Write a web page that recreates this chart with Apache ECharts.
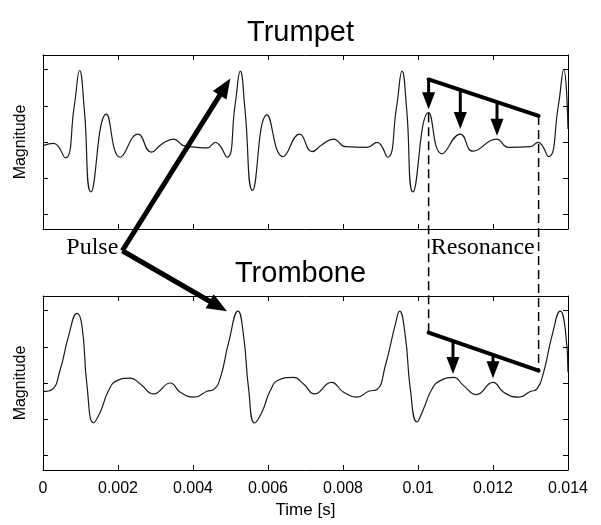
<!DOCTYPE html>
<html><head><meta charset="utf-8">
<script src="https://cdn.jsdelivr.net/npm/echarts@6/dist/echarts.min.js"></script>
<style>html,body{margin:0;padding:0;background:#fff}#c{width:601px;height:525px}</style>
</head><body><div id="c"></div>
<script>
// ---- data ----
const xTickValues = [0, 0.002, 0.004, 0.006, 0.008, 0.010, 0.012, 0.014];
const xTickLabels = ['0', '0.002', '0.004', '0.006', '0.008', '0.01', '0.012', '0.014'];
const yTickValues = [-1, -0.5, 0, 0.5, 1];

const trumpetTime = [0, 0.000283, 0.000595, 0.000835, 0.000976, 0.001101, 0.00128, 0.001688, 0.002061, 0.002533, 0.002888, 0.003173, 0.003483, 0.003749, 0.004107, 0.004373, 0.004595, 0.004907, 0.00512, 0.005261, 0.005386, 0.005589, 0.005973, 0.0064, 0.006843, 0.007173, 0.00744, 0.007749, 0.008061, 0.00864, 0.008907, 0.009189, 0.009432, 0.009573, 0.009698, 0.009867, 0.010283, 0.01064, 0.011128, 0.011467, 0.012088, 0.012416, 0.012995, 0.0132, 0.013483, 0.013742, 0.013883, 0.014];
const trumpetMag = [-0.05, -0.018, -0.219, 0.5, 0.986, 0.45, -0.689, 0.384, -0.21, 0.11, -0.141, -0.027, 0.041, -0.05, -0.073, -0.082, -0.004, -0.21, 0.5, 0.977, 0.45, -0.667, 0.374, -0.201, 0.11, -0.133, -0.037, 0.041, -0.064, -0.073, -0.004, -0.21, 0.5, 0.977, 0.45, -0.689, 0.407, -0.164, 0.11, -0.127, 0.041, -0.073, -0.064, -0.004, -0.201, 0.5, 1.0, 0.18];

const tromboneTime = [0, 0.00024, 0.000461, 0.000683, 0.000907, 0.00104, 0.001173, 0.001349, 0.001528, 0.001749, 0.001973, 0.002328, 0.002595, 0.002949, 0.003395, 0.003661, 0.004035, 0.004373, 0.004549, 0.004728, 0.004949, 0.0052, 0.005349, 0.005483, 0.005643, 0.00584, 0.006061, 0.006283, 0.006683, 0.006949, 0.007243, 0.007688, 0.008016, 0.008373, 0.008683, 0.008907, 0.009128, 0.009395, 0.009509, 0.009661, 0.009795, 0.009973, 0.010149, 0.010373, 0.010595, 0.010949, 0.011216, 0.011555, 0.012, 0.012283, 0.012683, 0.012995, 0.013173, 0.013349, 0.013573, 0.013795, 0.013928, 0.014];
const tromboneMag = [-0.118, -0.09, 0.19, 0.65, 0.959, 0.786, -0.036, -0.548, -0.40, -0.104, 0.033, 0.068, -0.014, -0.151, 0.0, -0.127, -0.196, -0.114, -0.09, 0.07, 0.557, 0.992, 0.65, -0.082, -0.552, -0.40, -0.104, 0.041, 0.078, -0.014, -0.151, 0.01, -0.127, -0.196, -0.114, -0.09, 0.238, 0.808, 0.992, 0.65, -0.082, -0.538, -0.356, -0.082, 0.033, 0.078, -0.036, -0.159, 0.01, -0.127, -0.196, -0.118, -0.082, 0.147, 0.65, 0.992, 0.74, 0.147];

// annotations (data coordinates)
const pulseOrigin = [0.002115, -1.5];           // grid 0 coords (between panels)
const pulseTipTop = [0.004995, 0.877];          // grid 0
const pulseTipBottom = [0.004907, 0.99];        // grid 1
const resTopLine = [[0.010283, 0.863], [0.013216, 0.36]];
const resTopArrowT = [0.010283, 0.011128, 0.012107];
const resTopArrowTip = [0.452, 0.178, 0.086];
const resBotLine = [[0.010283, 0.695], [0.013216, 0.17]];
const resBotArrowT = [0.010933, 0.012];
const resBotArrowTip = [0.123, 0.064];

// ---- chart ----
const chart = echarts.init(document.getElementById('c'), null, {renderer: 'canvas'});
const FONT = 'Liberation Sans, Arial, Helvetica, sans-serif';
const SERIF = 'Liberation Serif, Times New Roman, serif';

function xAx(gridIndex, position, labels) {
  return {
    type: 'value', gridIndex, position, min: 0, max: 0.014, interval: 0.002,
    axisLine: {show: true, onZero: false, lineStyle: {color: '#000', width: 1}},
    axisTick: {show: true, inside: true, length: 5, lineStyle: {color: '#000'}},
    splitLine: {show: false},
    axisLabel: {show: labels, color: '#000', fontFamily: FONT, fontSize: 16, margin: 11,
      showMinLabel: true, showMaxLabel: true,
      formatter: v => xTickLabels[Math.round(v / 0.002)]},
    name: labels ? 'Time [s]' : '', nameLocation: 'middle', nameGap: 32,
    nameTextStyle: {color: '#000', fontFamily: FONT, fontSize: 17}
  };
}
function yAx(gridIndex, position, named) {
  return {
    type: 'value', gridIndex, position, min: -1.2, max: 1.2,
    axisLine: {show: true, onZero: false, lineStyle: {color: '#000', width: 1}},
    axisTick: {show: true, inside: true, length: 5, customValues: yTickValues, lineStyle: {color: '#000'}},
    splitLine: {show: false},
    axisLabel: {show: false},
    name: named ? 'Magnitude' : '', nameLocation: 'middle', nameGap: 14,
    nameTextStyle: {color: '#000', fontFamily: FONT, fontSize: 16}
  };
}

const option = {
  backgroundColor: '#fff',
  animation: false,
  title: [
    {text: 'Trumpet', left: 'center', top: 13, textStyle: {fontFamily: FONT, fontSize: 29, fontWeight: 'normal', color: '#000'}},
    {text: 'Trombone', left: 'center', top: 254, textStyle: {fontFamily: FONT, fontSize: 29, fontWeight: 'normal', color: '#000'}}
  ],
  grid: [
    {left: 43, right: 33, top: 55, height: 174},
    {left: 43, right: 33, top: 296, height: 174}
  ],
  xAxis: [xAx(0, 'bottom', false), xAx(0, 'top', false), xAx(1, 'bottom', true), xAx(1, 'top', false)],
  yAxis: [yAx(0, 'left', true), yAx(0, 'right', false), yAx(1, 'left', true), yAx(1, 'right', false)],
  series: [
    {type: 'line', xAxisIndex: 0, yAxisIndex: 0, smooth: 0.5, symbol: 'none',
     lineStyle: {color: '#1a1a1a', width: 1.2},
     data: trumpetTime.map((t, i) => [t, trumpetMag[i]])},
    {type: 'line', xAxisIndex: 2, yAxisIndex: 2, smooth: 0.5, symbol: 'none',
     lineStyle: {color: '#1a1a1a', width: 1.2},
     data: tromboneTime.map((t, i) => [t, tromboneMag[i]])}
  ]
};
chart.setOption(option);

function px(grid, p) { return chart.convertToPixel({gridIndex: grid}, p); }
function arrow(a, b, lw, hl, hw) {
  const dx = b[0] - a[0], dy = b[1] - a[1];
  const L = Math.hypot(dx, dy), ux = dx / L, uy = dy / L;
  const base = [b[0] - ux * hl, b[1] - uy * hl];
  const nx = -uy, ny = ux;
  return [
    {type: 'line', shape: {x1: a[0], y1: a[1], x2: base[0] + ux * 2, y2: base[1] + uy * 2},
     style: {stroke: '#000', lineWidth: lw}, z: 100},
    {type: 'polygon', shape: {points: [b, [base[0] + nx * hw, base[1] + ny * hw], [base[0] - nx * hw, base[1] - ny * hw]]},
     style: {fill: '#000'}, z: 100}
  ];
}
function lerpY(line, t) {
  const [p0, p1] = line;
  return p0[1] + (p1[1] - p0[1]) * (t - p0[0]) / (p1[0] - p0[0]);
}

const g = [];
const o = px(0, pulseOrigin);
g.push(...arrow(o, px(0, pulseTipTop), 5, 20, 8));
g.push(...arrow(o, px(1, pulseTipBottom), 5, 20, 8));
g.push({type: 'text', x: o[0] - 4, y: o[1] - 3, z: 100,
  style: {text: 'Pulse', fill: '#000', font: '24px ' + SERIF, align: 'right', verticalAlign: 'middle'}});
const rl = px(0, [0.01034, pulseOrigin[1]]);
g.push({type: 'text', x: rl[0], y: rl[1] - 3, z: 100,
  style: {text: 'Resonance', fill: '#000', font: '24px ' + SERIF, align: 'left', verticalAlign: 'middle'}});

// top resonance
const t0 = px(0, resTopLine[0]), t1 = px(0, resTopLine[1]);
g.push({type: 'line', shape: {x1: t0[0], y1: t0[1], x2: t1[0], y2: t1[1]}, style: {stroke: '#000', lineWidth: 4, lineCap: 'round'}, z: 100});
resTopArrowT.forEach((t, i) => {
  g.push(...arrow(px(0, [t, lerpY(resTopLine, t)]), px(0, [t, resTopArrowTip[i]]), 3, 17, 6.5));
});
// bottom resonance
const b0 = px(1, resBotLine[0]), b1 = px(1, resBotLine[1]);
g.push({type: 'line', shape: {x1: b0[0], y1: b0[1], x2: b1[0], y2: b1[1]}, style: {stroke: '#000', lineWidth: 4, lineCap: 'round'}, z: 100});
resBotArrowT.forEach((t, i) => {
  g.push(...arrow(px(1, [t, lerpY(resBotLine, t)]), px(1, [t, resBotArrowTip[i]]), 3, 17, 6.5));
});
// dashed connectors
const dTopL = px(0, [resTopArrowT[0], resTopArrowTip[0]]);
g.push({type: 'line', shape: {x1: dTopL[0], y1: dTopL[1] + 4, x2: b0[0], y2: b0[1]}, style: {stroke: '#000', lineWidth: 1.5, lineDash: [9, 5]}, z: 99});
g.push({type: 'line', shape: {x1: t1[0], y1: t1[1], x2: b1[0], y2: b1[1]}, style: {stroke: '#000', lineWidth: 1.5, lineDash: [9, 5]}, z: 99});

chart.setOption({graphic: g});
</script></body></html>
